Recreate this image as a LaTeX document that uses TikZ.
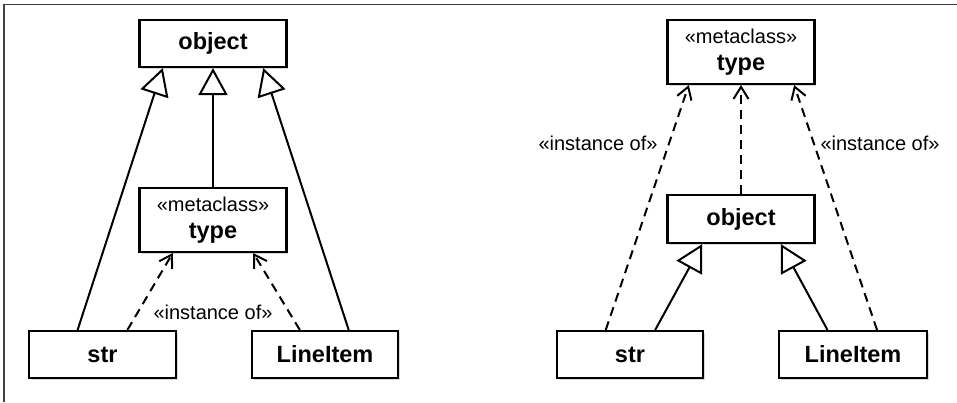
\documentclass[tikz,border=0pt]{standalone}
\usepackage{fontspec}
\setmainfont{Liberation Sans}
\usetikzlibrary{arrows.meta,calc,shadows}
\begin{document}
\begin{tikzpicture}[x=1pt,y=-1pt,
 umlbox/.style={draw, line width=2.1pt, fill=white, minimum width=147pt, minimum height=47pt, inner sep=0pt,
   font=\fontsize{23.5}{27}\selectfont\bfseries,
   drop shadow={shadow xshift=1.5pt,shadow yshift=-2pt,opacity=0.3}},
 metabox/.style={umlbox, minimum height=64pt, align=center},
 inherit/.style={line width=2pt, -{Triangle[fill=white,length=27pt,width=29pt]}},
 instof/.style={line width=2pt, dash pattern=on 9pt off 6pt, -{Straight Barb[length=12pt,width=15pt]}},
 lbl/.style={font=\fontsize{20}{22}\selectfont},
 frame/.style={draw=black!75, line width=1.6pt}
]
\useasboundingbox (0,0) rectangle (957,402);
\coordinate (ftl) at (4,4.5);
\coordinate (ftr) at (957,4.5);
\coordinate (fbl) at (4,402);
\draw[frame] (ftr) -- (ftl) -- (fbl);

% ---------- left diagram ----------
\node[umlbox] (objL) at (213,43.5) {object};
\node[metabox] (typeL) at (213,220) {{\fontsize{20}{22}\selectfont\mdseries «metaclass»}\\type};
\node[umlbox] (strL) at (102.5,354.5) {str};
\node[umlbox, minimum width=146pt] (liL) at (325,354.5) {LineItem};

\draw[inherit] ($(strL.north west)!0.333!(strL.north east)$) -- ($(objL.south west)!0.163!(objL.south east)$);
\draw[inherit] (typeL.north) -- (objL.south);
\draw[inherit] ($(liL.north west)!0.66!(liL.north east)$) -- ($(objL.south west)!0.837!(objL.south east)$);
\draw[instof] ($(strL.north west)!0.667!(strL.north east)$) -- ($(typeL.south west)!0.23!(typeL.south east)$);
\draw[instof] ($(liL.north west)!0.33!(liL.north east)$) -- ($(typeL.south west)!0.77!(typeL.south east)$);
\node[lbl] (instL) at (213,312) {«instance of»};

% ---------- right diagram ----------
\node[metabox] (typeR) at (741,52) {{\fontsize{20}{22}\selectfont\mdseries «metaclass»}\\type};
\node[umlbox, minimum height=48pt] (objR) at (741,219) {object};
\node[umlbox, minimum width=146pt] (strR) at (630,354.5) {str};
\node[umlbox, minimum width=148pt] (liR) at (853,354.5) {LineItem};

\draw[instof] ($(strR.north west)!0.336!(strR.north east)$) -- ($(typeR.south west)!0.15!(typeR.south east)$);
\draw[instof] (objR.north) -- (typeR.south);
\draw[instof] ($(liR.north west)!0.66!(liR.north east)$) -- ($(typeR.south west)!0.856!(typeR.south east)$);
\draw[inherit] ($(strR.north west)!0.67!(strR.north east)$) -- ($(objR.south west)!0.24!(objR.south east)$);
\draw[inherit] ($(liR.north west)!0.33!(liR.north east)$) -- ($(objR.south west)!0.767!(objR.south east)$);
\node[lbl] (instR1) at (598,143) {«instance of»};
\node[lbl] (instR2) at (880,143) {«instance of»};
\end{tikzpicture}
\end{document}
